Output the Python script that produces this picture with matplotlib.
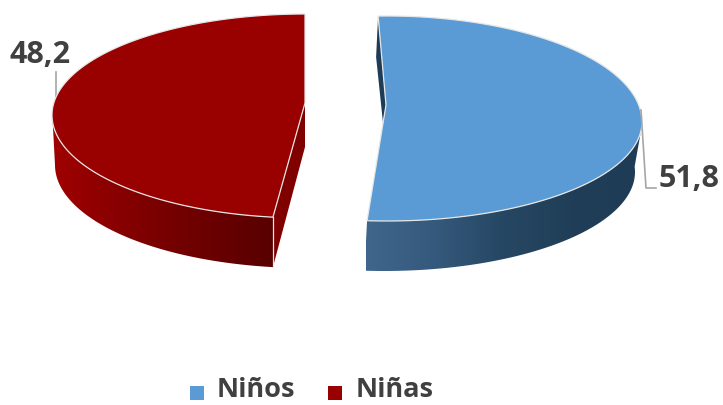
import numpy as np
import matplotlib
matplotlib.use('Agg')
import matplotlib.pyplot as plt
from matplotlib.colors import LinearSegmentedColormap
from matplotlib.patches import Polygon, Rectangle

# ---------------- Data ----------------
categories = ['Niños', 'Niñas']
values = [51.8, 48.2]
value_labels = ['51,8', '48,2']

# ---------------- Style ----------------
blue = '#5B9BD5'
red = '#990000'
text_color = '#404040'
rim_color = '#E6E6E6'
leader_color = '#A6A6A6'
font = ['Open Sans', 'DejaVu Sans']
start_angle = 92.0  # where the first slice begins, going clockwise
skew = 2.8          # perspective shift of the left slice's cut edge
depth = 50

blue_wall = LinearSegmentedColormap.from_list('blue_wall', ['#40668C', '#35597C', '#264763', '#203E57', '#1F3C56'])
red_wall = LinearSegmentedColormap.from_list('red_wall', ['#A00000', '#8C0000', '#780000', '#680000', '#580000'])


def rim(cx, cy, a, b_top, b_bot, t1, t2, n=120):
    # points on the slice's outer edge, t in degrees
    t = np.radians(np.linspace(t1, t2, n))
    s = np.sin(t)
    return np.column_stack((cx + a*np.cos(t), cy - np.where(s > 0, b_top, b_bot)*s))


def gradient_wall(ax, pts, cmap, x0, x1):
    poly = Polygon(pts, closed=True, facecolor='none', edgecolor='none', zorder=2)
    ax.add_patch(poly)
    im = ax.imshow(np.linspace(0, 1, 256)[None, :], cmap=cmap, aspect='auto',
                   extent=(x0, x1, 300, 0), zorder=2)
    im.set_clip_path(poly)


fig = plt.figure(figsize=(7.23, 4.05), dpi=100)
ax = fig.add_axes([0, 0, 1, 1])

sweeps = [v / sum(values) * 360 for v in values]

# ---------------- Right slice (Niños) ----------------
t1 = start_angle
t2 = start_angle - sweeps[0]
shape = dict(cx=387, cy=122, a=255, b_top=106, b_bot=99)
apex = np.array([386, 105])
top_edge = rim(t1=t1, t2=t2, **shape)

# inner cut wall, barely visible behind the face
inner = [top_edge[0], top_edge[0] + (-2, 41), apex + (-3, 18), apex]
ax.add_patch(Polygon(inner, closed=True, facecolor='#1F3C56', edgecolor='none', zorder=1))

# outer wall
upper = rim(t1=t2, t2=-3, **shape)
lower = rim(cx=384, cy=122 + depth, a=251, b_top=106, b_bot=99, t1=t2, t2=3)
gradient_wall(ax, np.vstack((upper, lower[::-1])), blue_wall, 366, 642)

ax.add_patch(Polygon(np.vstack((top_edge, [apex])), closed=True, facecolor=blue,
                     edgecolor=rim_color, lw=0.9, zorder=3))

# ---------------- Left slice (Niñas) ----------------
t3 = t2 + 360 - skew
shape = dict(cx=305, cy=115, a=253, b_top=101, b_bot=103)
apex = np.array([305, 103])
top_edge = rim(t1=t3, t2=start_angle - 2, **shape)

# cut wall
corner = top_edge[0]
cut = [apex, corner, corner + (0, depth), apex + (0, 44)]
ax.add_patch(Polygon(cut, closed=True, facecolor='#800000', edgecolor='none', zorder=1))

# outer wall
upper = rim(t1=t3, t2=178, **shape)
lower = rim(cx=306, cy=115 + depth, a=251, b_top=101, b_bot=103, t1=t3, t2=180)
gradient_wall(ax, np.vstack((upper, lower[::-1])), red_wall, 52, corner[0])
ax.plot([corner[0], corner[0]], [corner[1], corner[1] + depth], color=rim_color, lw=0.9, zorder=3)

ax.add_patch(Polygon(np.vstack((top_edge, [apex])), closed=True, facecolor=red,
                     edgecolor=rim_color, lw=0.9, zorder=3))

# ---------------- Leaders and value labels ----------------
ax.plot([641, 646, 656], [110, 188, 188], color=leader_color, lw=1.2, zorder=4)
ax.plot([56, 56], [72, 98], color=leader_color, lw=1.2, zorder=1)
ax.text(659, 179, value_labels[0], fontsize=22, fontweight='bold', color=text_color,
        family=font, va='center', ha='left')
ax.text(9, 55, value_labels[1], fontsize=22, fontweight='bold', color=text_color,
        family=font, va='center', ha='left')

# ---------------- Legend ----------------
for name, color, box_x, text_x in zip(categories, [blue, red], [190, 328], [217, 356]):
    ax.add_patch(Rectangle((box_x, 386), 14, 14, facecolor=color, edgecolor='none'))
    ax.text(text_x, 397, name, fontsize=19.5, fontweight='bold', color=text_color,
            family=font, va='baseline', ha='left')

ax.set_xlim(0, 723)
ax.set_ylim(405, 0)
ax.axis('off')

fig.savefig('out.png', dpi=100)
